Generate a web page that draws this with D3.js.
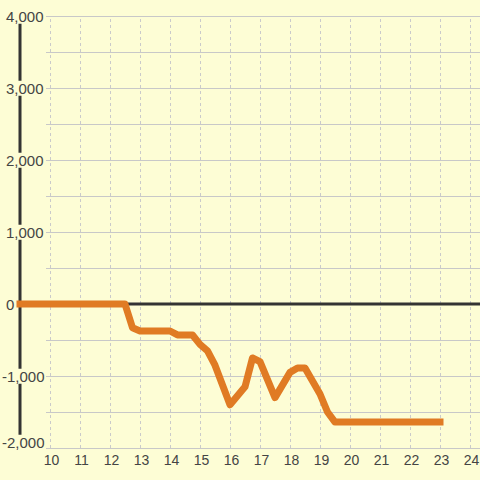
<!DOCTYPE html>
<html>
<head>
<meta charset="utf-8">
<script src="https://cdn.jsdelivr.net/npm/d3@7"></script>
<style>
  body { margin: 0; background: #fdfdd5; }
  svg { display: block; font-family: "Liberation Sans", Arial, sans-serif; }
</style>
</head>
<body>
<svg id="chart" width="480" height="480"></svg>
<script>
// hours and values
const hours  = [9, 12.5, 12.75, 13, 14, 14.25, 14.75, 15, 15.25, 15.5, 16, 16.5, 16.75, 17, 17.5, 18, 18.25, 18.5, 19, 19.25, 19.5, 23];
const values = [0, 0, -330, -375, -375, -430, -430, -560, -650, -850, -1400, -1150, -750, -800, -1300, -950, -890, -890, -1250, -1500, -1640, -1640];

const xTicks = [10, 11, 12, 13, 14, 15, 16, 17, 18, 19, 20, 21, 22, 23, 24];
const yTicks = [-2000, -1000, 0, 1000, 2000, 3000, 4000];
const yGrid = d3.range(-2000, 4001, 500);

const W = 480, H = 480;
const bg = "#fdfdd5";

const svg = d3.select("#chart");
svg.append("rect").attr("width", W).attr("height", H).attr("fill", bg);

const x = d3.scaleLinear().domain([9, 24]).range([20, 470]);
const y = d3.scaleLinear().domain([-2000, 4000]).range([448, 16]);

// horizontal grid
svg.append("g")
  .attr("transform", "translate(46,0)")
  .call(d3.axisLeft(y).tickValues(yGrid).tickSize(-(W - 46)).tickFormat(""))
  .call(g => g.select(".domain").remove())
  .call(g => g.selectAll("line").attr("stroke", "#c8c8c8").attr("stroke-width", 1.2));

// vertical dashed grid
svg.append("g")
  .attr("transform", "translate(0,448)")
  .call(d3.axisBottom(x).tickValues(xTicks).tickSize(-(448 - 16)).tickFormat(""))
  .call(g => g.select(".domain").remove())
  .call(g => g.selectAll("line").attr("stroke", "#cacaca").attr("stroke-dasharray", "3,3"));

// y axis line
svg.append("line")
  .attr("x1", x(9)).attr("x2", x(9))
  .attr("y1", y(4000)).attr("y2", y(-2000))
  .attr("stroke", "#333").attr("stroke-width", 3);

// zero line
svg.append("line")
  .attr("x1", x(9)).attr("x2", W)
  .attr("y1", y(0)).attr("y2", y(0))
  .attr("stroke", "#333").attr("stroke-width", 3);

// y labels with background knock-out
const yAxis = svg.append("g")
  .attr("transform", "translate(43,0)")
  .call(d3.axisLeft(y).tickValues(yTicks).tickSize(0).tickPadding(0)
    .tickFormat(d => d.toLocaleString("en-US")));
yAxis.select(".domain").remove();
yAxis.selectAll("text")
  .attr("text-anchor", "start")
  .attr("x", d => d < 0 ? -41 : -37)
  .attr("y", d => d === -2000 ? -6 : 0)
  .attr("dy", "0.35em")
  .attr("font-size", 15)
  .attr("fill", "#444");
yAxis.selectAll(".tick").each(function () {
  const t = d3.select(this).select("text");
  const b = t.node().getBBox();
  d3.select(this).insert("rect", "text")
    .attr("x", b.x - 1).attr("y", b.y + 1)
    .attr("width", b.width + 2).attr("height", b.height - 2)
    .attr("fill", bg);
});

// x labels
const xAxis = svg.append("g")
  .attr("transform", "translate(1,455)")
  .call(d3.axisBottom(x).tickValues(xTicks).tickSize(0).tickPadding(0));
xAxis.select(".domain").remove();
xAxis.selectAll("text")
  .attr("dy", "0.71em")
  .attr("font-size", 14)
  .attr("fill", "#444");

// data line
const line = d3.line()
  .x((d, i) => x(hours[i]))
  .y(d => y(d));

svg.append("path")
  .datum(values)
  .attr("d", line)
  .attr("fill", "none")
  .attr("stroke", "#e07b24")
  .attr("stroke-width", 7)
  .attr("stroke-linecap", "square")
  .attr("stroke-linejoin", "round");
</script>
</body>
</html>
